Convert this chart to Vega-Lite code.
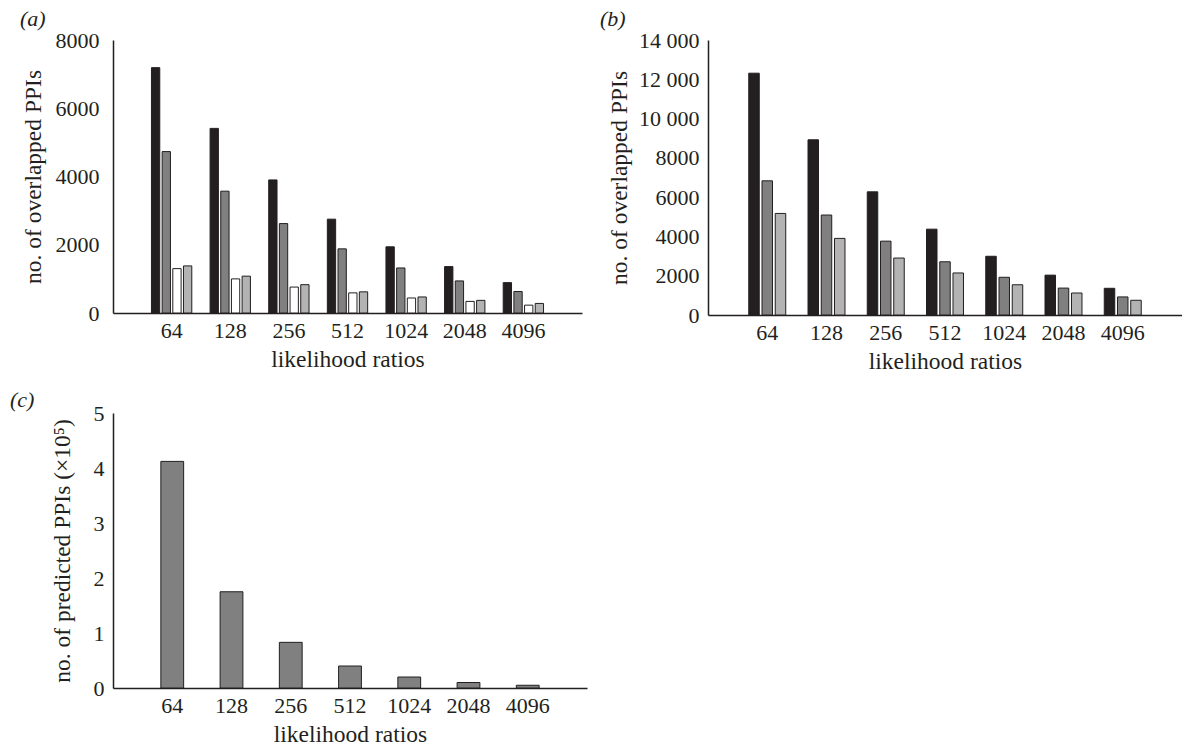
{
  "$schema": "https://vega.github.io/schema/vega-lite/v6.json",
  "padding": {"left": 10, "top": 8, "right": 0, "bottom": 2},
  "background": "white",
  "columns": 2,
  "bounds": "flush",
  "align": "all",
  "spacing": {"column": 121, "row": 98},
  "resolve": {"scale": {"xOffset": "independent", "color": "independent"}},
  "config": {
    "font": "Liberation Serif",
    "view": {"stroke": null},
    "axis": {
      "labelFont": "Liberation Serif",
      "titleFont": "Liberation Serif",
      "labelFontSize": 22,
      "titleFontSize": 23.5,
      "titleFontWeight": "normal",
      "ticks": false,
      "tickSize": 0,
      "grid": false,
      "domainColor": "#231f20",
      "domainWidth": 1.5,
      "labelColor": "#231f20",
      "titleColor": "#231f20"
    },
    "axisX": {"labelPadding": 7, "titlePadding": 6, "labelAngle": 0},
    "title": {"font": "Liberation Serif", "fontSize": 22, "fontStyle": "italic", "fontWeight": "normal", "color": "#231f20", "anchor": "start", "frame": "group", "offset": -2}
  },
  "datasets": {
    "overlapA": [
      {"lr": "64", "series": "s1", "value": 7190}, {"lr": "64", "series": "s2", "value": 4730}, {"lr": "64", "series": "s3", "value": 1300}, {"lr": "64", "series": "s4", "value": 1380},
      {"lr": "128", "series": "s1", "value": 5410}, {"lr": "128", "series": "s2", "value": 3570}, {"lr": "128", "series": "s3", "value": 1000}, {"lr": "128", "series": "s4", "value": 1080},
      {"lr": "256", "series": "s1", "value": 3900}, {"lr": "256", "series": "s2", "value": 2620}, {"lr": "256", "series": "s3", "value": 760}, {"lr": "256", "series": "s4", "value": 830},
      {"lr": "512", "series": "s1", "value": 2750}, {"lr": "512", "series": "s2", "value": 1880}, {"lr": "512", "series": "s3", "value": 590}, {"lr": "512", "series": "s4", "value": 620},
      {"lr": "1024", "series": "s1", "value": 1940}, {"lr": "1024", "series": "s2", "value": 1320}, {"lr": "1024", "series": "s3", "value": 440}, {"lr": "1024", "series": "s4", "value": 470},
      {"lr": "2048", "series": "s1", "value": 1360}, {"lr": "2048", "series": "s2", "value": 940}, {"lr": "2048", "series": "s3", "value": 340}, {"lr": "2048", "series": "s4", "value": 370},
      {"lr": "4096", "series": "s1", "value": 890}, {"lr": "4096", "series": "s2", "value": 630}, {"lr": "4096", "series": "s3", "value": 230}, {"lr": "4096", "series": "s4", "value": 280}
    ],
    "overlapB": [
      {"lr": "64", "series": "s1", "value": 12310}, {"lr": "64", "series": "s2", "value": 6830}, {"lr": "64", "series": "s4", "value": 5170},
      {"lr": "128", "series": "s1", "value": 8920}, {"lr": "128", "series": "s2", "value": 5090}, {"lr": "128", "series": "s4", "value": 3900},
      {"lr": "256", "series": "s1", "value": 6270}, {"lr": "256", "series": "s2", "value": 3760}, {"lr": "256", "series": "s4", "value": 2900},
      {"lr": "512", "series": "s1", "value": 4370}, {"lr": "512", "series": "s2", "value": 2710}, {"lr": "512", "series": "s4", "value": 2140},
      {"lr": "1024", "series": "s1", "value": 2990}, {"lr": "1024", "series": "s2", "value": 1920}, {"lr": "1024", "series": "s4", "value": 1540},
      {"lr": "2048", "series": "s1", "value": 2030}, {"lr": "2048", "series": "s2", "value": 1370}, {"lr": "2048", "series": "s4", "value": 1120},
      {"lr": "4096", "series": "s1", "value": 1360}, {"lr": "4096", "series": "s2", "value": 920}, {"lr": "4096", "series": "s4", "value": 750}
    ],
    "predicted": [
      {"lr": "64", "value": 4.12}, {"lr": "128", "value": 1.75}, {"lr": "256", "value": 0.83}, {"lr": "512", "value": 0.40},
      {"lr": "1024", "value": 0.20}, {"lr": "2048", "value": 0.10}, {"lr": "4096", "value": 0.05}
    ]
  },
  "concat": [
    {
      "title": {"text": "(a)", "dx": -93},
      "width": 469,
      "height": 273,
      "data": {"name": "overlapA"},
      "mark": {"type": "bar", "stroke": "#231f20", "strokeWidth": 1},
      "encoding": {
        "x": {"field": "lr", "type": "nominal", "sort": null,
              "scale": {"domain": ["64", "128", "256", "512", "1024", "2048", "4096"], "paddingInner": 0.312, "paddingOuter": 0.656},
              "axis": {"title": "likelihood ratios"}},
        "xOffset": {"field": "series", "type": "nominal",
              "scale": {"domain": ["s1", "s2", "s3", "s4"], "paddingInner": 0.22, "paddingOuter": 0}},
        "y": {"field": "value", "type": "quantitative",
              "scale": {"domain": [0, 8000], "nice": false},
              "axis": {"title": "no. of overlapped PPIs", "values": [0, 2000, 4000, 6000, 8000], "format": "d", "labelPadding": 14, "titlePadding": 10}},
        "color": {"field": "series", "type": "nominal", "legend": null,
              "scale": {"domain": ["s1", "s2", "s3", "s4"], "range": ["#231f20", "#808080", "#ffffff", "#b3b3b3"]}}
      }
    },
    {
      "title": {"text": "(b)", "dx": -108},
      "width": 474,
      "height": 275,
      "data": {"name": "overlapB"},
      "mark": {"type": "bar", "stroke": "#231f20", "strokeWidth": 1},
      "encoding": {
        "x": {"field": "lr", "type": "nominal", "sort": null,
              "scale": {"domain": ["64", "128", "256", "512", "1024", "2048", "4096"], "paddingInner": 0.376, "paddingOuter": 0.688},
              "axis": {"title": "likelihood ratios"}},
        "xOffset": {"field": "series", "type": "nominal",
              "scale": {"domain": ["s1", "s2", "s4"], "paddingInner": 0.2075, "paddingOuter": 0}},
        "y": {"field": "value", "type": "quantitative",
              "scale": {"domain": [0, 14000], "nice": false},
              "axis": {"title": "no. of overlapped PPIs", "values": [0, 2000, 4000, 6000, 8000, 10000, 12000, 14000],
                       "labelExpr": "datum.value >= 10000 ? replace(format(datum.value, ','), ',', ' ') : format(datum.value, 'd')",
                       "labelPadding": 9, "titlePadding": 7}},
        "color": {"field": "series", "type": "nominal", "legend": null,
              "scale": {"domain": ["s1", "s2", "s4"], "range": ["#231f20", "#808080", "#b3b3b3"]}}
      }
    },
    {
      "title": {"text": "(c)", "dx": -103, "offset": -10},
      "width": 474,
      "height": 275,
      "data": {"name": "predicted"},
      "mark": {"type": "bar", "stroke": "#231f20", "strokeWidth": 1, "fill": "#808080"},
      "encoding": {
        "x": {"field": "lr", "type": "nominal", "sort": null,
              "scale": {"domain": ["64", "128", "256", "512", "1024", "2048", "4096"], "paddingInner": 0.615, "paddingOuter": 0.8075},
              "axis": {"title": "likelihood ratios"}},
        "y": {"field": "value", "type": "quantitative",
              "scale": {"domain": [0, 5], "nice": false},
              "axis": {"title": "no. of predicted PPIs (×10⁵)", "values": [0, 1, 2, 3, 4, 5], "format": "d", "labelPadding": 9, "titlePadding": 19}}
      }
    }
  ]
}
